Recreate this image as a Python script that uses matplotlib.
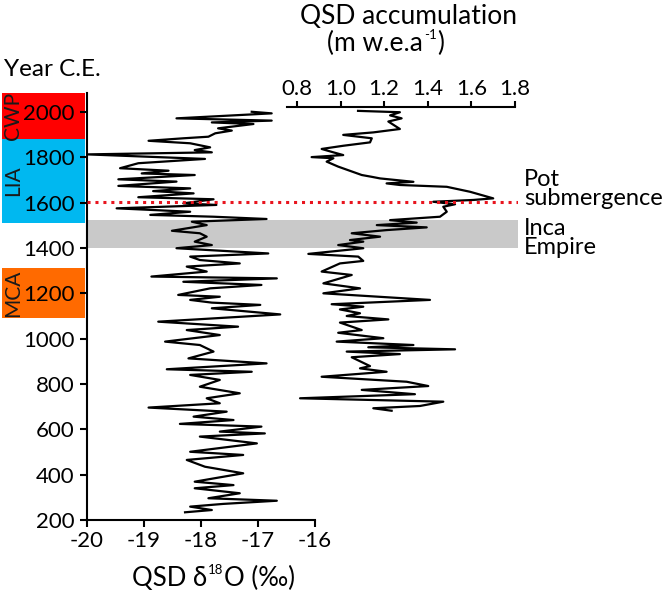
import matplotlib
matplotlib.use("Agg")
import matplotlib.pyplot as plt
from matplotlib.transforms import blended_transform_factory
from matplotlib.patches import Rectangle

FONT = ["Lato", "DejaVu Sans"]
plt.rcParams["font.family"] = FONT

# ---------------- data ----------------
d18o_years = [2001, 1994, 1972, 1962, 1954, 1947, 1928, 1918, 1906, 1891, 1884, 1873,
              1862, 1844, 1832, 1822, 1813, 1793, 1774, 1752, 1741, 1729, 1722, 1703,
              1693, 1674, 1663, 1651, 1641, 1624, 1615, 1597, 1590, 1575, 1560, 1546,
              1538, 1528, 1516, 1501, 1476, 1465, 1450, 1428, 1413, 1399, 1376, 1362,
              1347, 1332, 1318, 1296, 1274, 1266, 1251, 1237, 1222, 1193, 1185, 1171,
              1159, 1149, 1134, 1107, 1075, 1053, 1038, 1016, 987, 972, 943, 913,
              891, 865, 854, 840, 818, 788, 759, 737, 715, 696, 678, 656,
              641, 624, 612, 590, 582, 568, 538, 501, 487, 465, 435, 406,
              369, 354, 340, 318, 296, 285, 271, 259, 244, 234]
d18o_values = [-17.11, -16.76, -18.43, -16.76, -17.81, -17.08, -17.70, -17.46, -17.75, -17.87, -18.31, -18.92,
               -18.19, -17.84, -18.11, -17.81, -20.00, -17.93, -19.10, -19.42, -18.57, -19.04, -18.11, -19.45,
               -18.43, -19.45, -18.19, -18.84, -18.13, -19.10, -17.78, -18.31, -17.73, -19.48, -18.19, -18.89,
               -17.78, -16.85, -18.16, -17.90, -18.51, -18.02, -17.90, -18.11, -17.81, -18.43, -16.82, -18.19,
               -18.02, -17.32, -18.25, -17.90, -18.87, -16.67, -18.31, -16.94, -17.84, -18.40, -17.67, -18.19,
               -17.81, -16.96, -17.81, -16.61, -18.75, -17.35, -18.25, -17.67, -18.63, -18.02, -17.78, -18.22,
               -16.85, -18.60, -17.11, -18.19, -17.67, -18.02, -17.32, -17.90, -17.67, -18.92, -17.55, -18.13,
               -17.43, -18.37, -16.94, -17.67, -16.88, -18.02, -17.02, -18.19, -17.26, -18.25, -17.93, -17.26,
               -18.11, -17.43, -18.11, -17.32, -17.87, -16.67, -17.61, -18.19, -17.81, -18.28]

acc_years = [2005, 1999, 1985, 1972, 1958, 1925, 1910, 1899, 1884, 1866, 1851, 1837,
             1822, 1810, 1801, 1796, 1781, 1759, 1722, 1714, 1707, 1692, 1685, 1678,
             1670, 1648, 1619, 1612, 1604, 1593, 1582, 1560, 1538, 1523, 1512, 1501,
             1491, 1479, 1465, 1450, 1435, 1428, 1413, 1399, 1374, 1362, 1343, 1332,
             1296, 1281, 1244, 1222, 1200, 1171, 1152, 1141, 1129, 1112, 1100, 1085,
             1071, 1038, 1026, 1002, 987, 972, 962, 953, 943, 932, 918, 879,
             869, 854, 832, 810, 791, 774, 755, 737, 722, 703, 693, 682]
acc_values = [1.08, 1.272, 1.227, 1.280, 1.219, 1.272, 1.150, 1.012, 1.143, 1.135, 1.012, 0.913,
              0.967, 1.012, 0.867, 0.967, 0.936, 0.989, 1.097, 1.143, 1.181, 1.334, 1.211, 1.272,
              1.487, 1.594, 1.700, 1.609, 1.425, 1.525, 1.471, 1.487, 1.456, 1.227, 1.349, 1.166,
              1.395, 1.211, 1.051, 1.181, 1.043, 1.104, 0.989, 1.104, 0.852, 1.081, 1.104, 0.997,
              0.913, 1.051, 0.921, 1.089, 0.921, 1.410, 0.959, 1.104, 0.997, 1.089, 1.028, 1.219,
              0.997, 1.097, 0.989, 1.196, 0.982, 1.334, 1.127, 1.525, 1.028, 1.272, 1.051, 1.135,
              1.089, 1.211, 0.913, 1.303, 1.402, 1.097, 1.341, 0.814, 1.471, 1.364, 1.150, 1.234]

periods = ["CWP", "LIA", "MCA"]
period_start = [1881, 1512, 1092]
period_end = [2084, 1881, 1310]
period_colors = ["#ff0000", "#00b8f0", "#ff6a00"]

inca_start, inca_end = 1400, 1525
pot_year = 1605

year_ticks = [200, 400, 600, 800, 1000, 1200, 1400, 1600, 1800, 2000]
d18o_ticks = [-20, -19, -18, -17, -16]
acc_ticks = [0.8, 1.0, 1.2, 1.4, 1.6, 1.8]

# ---------------- layout (pixel geometry) ----------------
W, H = 664, 593
fig = plt.figure(figsize=(W / 100, H / 100), dpi=100)

ppy = (520 - 112) / 1800.0          # pixels per year
ytop1 = 2000 + (112 - 93) / ppy     # top of main axes
ytop2 = 200 + (520 - 107) / ppy     # top of accumulation axes

def rect(x0, y0, x1, y1):
    return [x0 / W, 1 - y1 / H, (x1 - x0) / W, (y1 - y0) / H]

# background axes for grey band
axb = fig.add_axes(rect(87, 93, 518, 520))
axb.set_ylim(200, ytop1)
axb.set_xlim(0, 1)
axb.axis("off")
axb.axhspan(inca_start, inca_end, color="#c9c9c9", lw=0)

# main d18O axes
ax1 = fig.add_axes(rect(87, 93, 315, 520))
ax1.patch.set_visible(False)
ax1.plot(d18o_values, d18o_years, color="black", lw=1.6)
ax1.set_xlim(-20, -16)
ax1.set_ylim(200, ytop1)
ax1.set_xticks(d18o_ticks)
ax1.set_xticklabels([f"{t:d}" for t in d18o_ticks])
ax1.set_yticks(year_ticks)
for s in ["top", "right"]:
    ax1.spines[s].set_visible(False)
for s in ["left", "bottom"]:
    ax1.spines[s].set_linewidth(1.5)
ax1.tick_params(direction="out", length=5, width=1.5, labelsize=16, pad=3)
ax1.tick_params(axis="y", pad=4)

# accumulation axes
ax2 = fig.add_axes(rect(287, 107, 515, 520))
ax2.patch.set_visible(False)
ax2.plot(acc_values, acc_years, color="black", lw=1.6)
ax2.set_xlim(0.8 - 10 / 218, 1.8)
ax2.set_ylim(200, ytop2)
for s in ["bottom", "left", "right"]:
    ax2.spines[s].set_visible(False)
ax2.spines["top"].set_linewidth(1.5)
ax2.xaxis.tick_top()
ax2.set_xticks(acc_ticks)
ax2.set_xticklabels([f"{t:.1f}" for t in acc_ticks])
ax2.set_yticks([])
ax2.tick_params(axis="x", direction="out", length=4, width=1.5, labelsize=16, pad=2)

# overlay for red dotted line
axo = fig.add_axes(rect(87, 93, 518, 520))
axo.set_ylim(200, ytop1)
axo.set_xlim(0, 1)
axo.axis("off")
axo.axhline(pot_year, color="#e8141e", lw=2.2, ls=(0, (1, 1.6)))

# period boxes left of the axis
tr = blended_transform_factory(fig.transFigure, ax1.transData)
for name, y0, y1, c in zip(periods, period_start, period_end, period_colors):
    ax1.add_patch(Rectangle((2 / W, y0), 83 / W, y1 - y0, transform=tr,
                            facecolor=c, edgecolor="none", clip_on=False, zorder=-1))
    ax1.text(13 / W, (y0 + y1) / 2, name, transform=tr, rotation=90,
             ha="center", va="center", fontsize=15, color="#1a1a1a")

# texts
fig.text(4 / W, 1 - 69 / H, "Year C.E.", fontsize=17.5, ha="left", va="center")


def sup_text(x_px, base_px, main, sup, tail, size, sup_size, rise):
    yb = 1 - base_px / H
    t1 = fig.text(x_px / W, yb, main, fontsize=size, ha="left", va="baseline")
    t2 = ax1.annotate(sup, xy=(1, yb), xycoords=(t1, fig.transFigure),
                      xytext=(0.6, rise), textcoords="offset points",
                      fontsize=sup_size, ha="left", va="baseline", annotation_clip=False)
    ax1.annotate(tail, xy=(1, yb), xycoords=(t2, fig.transFigure),
                 xytext=(0.3, 0), textcoords="offset points",
                 fontsize=size, ha="left", va="baseline", annotation_clip=False)


sup_text(132, 586, "QSD δ", "18", "O (‰)", 18.5, 9.5, 8.5)
fig.text(408 / W, 1 - 17 / H, "QSD accumulation", fontsize=19, ha="center", va="center")
sup_text(327, 51, "(m w.e.a", "-1", ")", 19, 9.5, 8.5)

fig.text(524 / W, 1 - 189 / H, "Pot\nsubmergence", fontsize=17, ha="left", va="center",
         linespacing=0.9)
fig.text(524 / W, 1 - 238 / H, "Inca\nEmpire", fontsize=17, ha="left", va="center",
         linespacing=0.9)

fig.savefig("out.png", dpi=100)
